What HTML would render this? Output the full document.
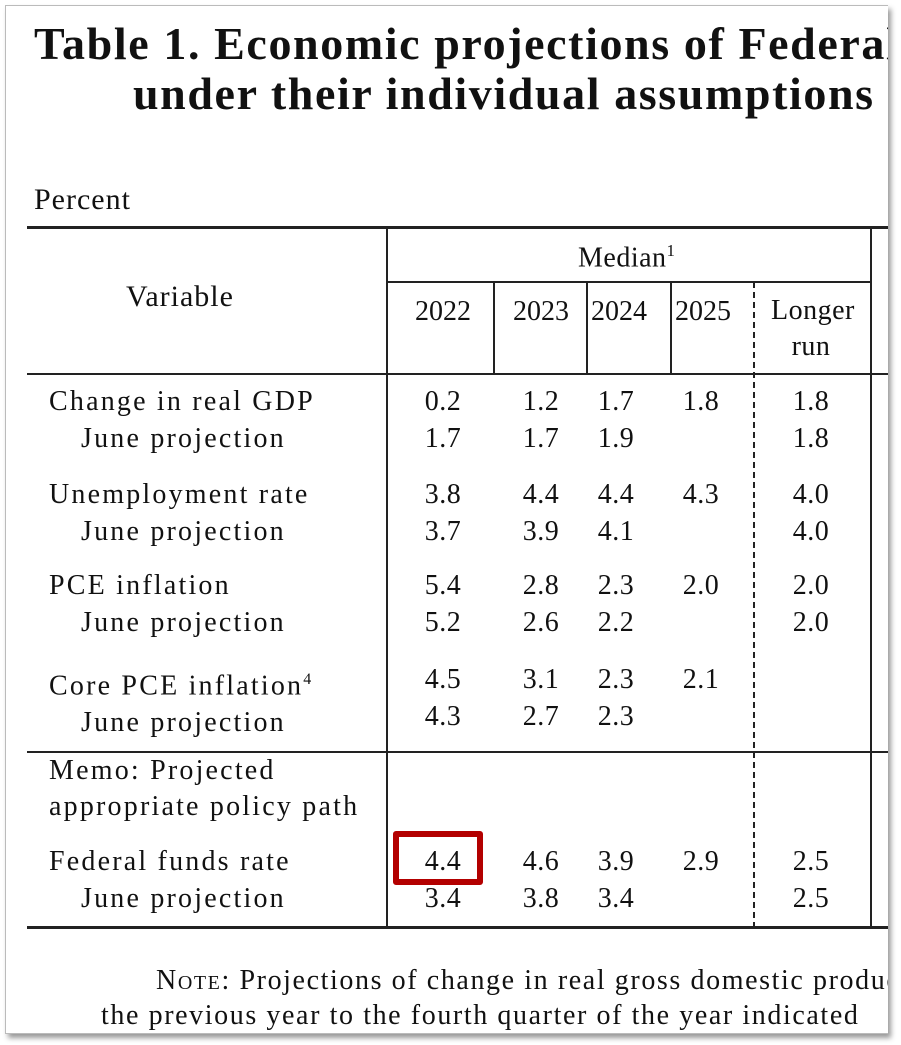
<!DOCTYPE html>
<html><head><style>
body{margin:0;width:901px;height:1045px;background:#fff;position:relative;overflow:hidden;font-family:"Liberation Serif",serif;color:#111}
#f{position:absolute;left:5px;top:5px;width:882px;height:1027px;border:1px solid #bbb;border-right:none;box-shadow:3px 4px 5px #999;background:#fff;overflow:hidden}
.t{position:absolute;white-space:nowrap;line-height:1;letter-spacing:1.4px}
.l{letter-spacing:2.2px}
.j{padding-left:32px}
.h{position:absolute;background:#222}
.c{position:absolute;width:80px;text-align:center;font-size:28px;line-height:1;letter-spacing:0.5px}
.y{letter-spacing:0}
</style></head><body>
<div id="f">
<div class="t" style="left:28px;top:15px;font-size:46px;font-weight:bold;letter-spacing:1.6px">Table 1. Economic projections of Federal Reserve</div>
<div class="t" style="left:127px;top:65px;font-size:46px;font-weight:bold;letter-spacing:1.6px">under their individual assumptions of projected</div>
<div class="t" style="left:28px;top:179px;font-size:30px;letter-spacing:1px">Percent</div>
<div class="h" style="left:21px;top:220px;width:870px;height:3px"></div>
<div class="h" style="left:380px;top:220px;width:2px;height:702px"></div>
<div class="h" style="left:864px;top:220px;width:2px;height:702px"></div>
<div class="h" style="left:380px;top:275px;width:486px;height:2px"></div>
<div class="h" style="left:487px;top:276px;width:2px;height:92px"></div>
<div class="h" style="left:580px;top:276px;width:2px;height:92px"></div>
<div class="h" style="left:664px;top:276px;width:2px;height:92px"></div>
<div style="position:absolute;left:747px;top:276px;width:0;height:646px;border-left:2px dashed #222"></div>
<div class="h" style="left:21px;top:367px;width:870px;height:2px"></div>
<div class="h" style="left:21px;top:745px;width:870px;height:2px"></div>
<div class="h" style="left:21px;top:920px;width:870px;height:3px"></div>
<div class="t" style="left:572px;top:236px;font-size:28px;letter-spacing:0.5px">Median<sup style="font-size:17px">1</sup></div>
<div class="t" style="left:120px;top:276px;font-size:30px;letter-spacing:1px">Variable</div>
<div class="c y" style="left:397px;top:292px">2022</div>
<div class="c y" style="left:495px;top:292px">2023</div>
<div class="c y" style="left:573px;top:292px">2024</div>
<div class="c y" style="left:657px;top:292px">2025</div>
<div class="c" style="left:765px;top:287px;line-height:36px">Longer<br>run</div>
<div class="t l" style="left:43px;top:377px;font-size:28px;line-height:37px">Change in real GDP<br><span class="j">June projection</span></div>
<div class="t l" style="left:43px;top:470px;font-size:28px;line-height:37px">Unemployment rate<br><span class="j">June projection</span></div>
<div class="t l" style="left:43px;top:561px;font-size:28px;line-height:37px">PCE inflation<br><span class="j">June projection</span></div>
<div class="t l" style="left:43px;top:655px;font-size:28px;line-height:37px">Core PCE inflation<sup style="font-size:16px">4</sup><br><span class="j">June projection</span></div>
<div class="t l" style="left:43px;top:747px;font-size:28px;line-height:36px">Memo: Projected<br>appropriate policy path</div>
<div class="t l" style="left:43px;top:837px;font-size:28px;line-height:37px">Federal funds rate<br><span class="j">June projection</span></div>
<div class="c" style="left:397px;top:377px;line-height:37px">0.2<br>1.7</div>
<div class="c" style="left:495px;top:377px;line-height:37px">1.2<br>1.7</div>
<div class="c" style="left:570px;top:377px;line-height:37px">1.7<br>1.9</div>
<div class="c" style="left:655px;top:377px;line-height:37px">1.8</div>
<div class="c" style="left:765px;top:377px;line-height:37px">1.8<br>1.8</div>
<div class="c" style="left:397px;top:470px;line-height:37px">3.8<br>3.7</div>
<div class="c" style="left:495px;top:470px;line-height:37px">4.4<br>3.9</div>
<div class="c" style="left:570px;top:470px;line-height:37px">4.4<br>4.1</div>
<div class="c" style="left:655px;top:470px;line-height:37px">4.3</div>
<div class="c" style="left:765px;top:470px;line-height:37px">4.0<br>4.0</div>
<div class="c" style="left:397px;top:561px;line-height:37px">5.4<br>5.2</div>
<div class="c" style="left:495px;top:561px;line-height:37px">2.8<br>2.6</div>
<div class="c" style="left:570px;top:561px;line-height:37px">2.3<br>2.2</div>
<div class="c" style="left:655px;top:561px;line-height:37px">2.0</div>
<div class="c" style="left:765px;top:561px;line-height:37px">2.0<br>2.0</div>
<div class="c" style="left:397px;top:655px;line-height:37px">4.5<br>4.3</div>
<div class="c" style="left:495px;top:655px;line-height:37px">3.1<br>2.7</div>
<div class="c" style="left:570px;top:655px;line-height:37px">2.3<br>2.3</div>
<div class="c" style="left:655px;top:655px;line-height:37px">2.1</div>
<div class="c" style="left:397px;top:837px;line-height:37px">4.4<br>3.4</div>
<div class="c" style="left:495px;top:837px;line-height:37px">4.6<br>3.8</div>
<div class="c" style="left:570px;top:837px;line-height:37px">3.9<br>3.4</div>
<div class="c" style="left:655px;top:837px;line-height:37px">2.9</div>
<div class="c" style="left:765px;top:837px;line-height:37px">2.5<br>2.5</div>
<div style="position:absolute;left:387px;top:825px;width:78px;height:42px;border:6px solid #b30000;border-radius:3px"></div>
<div class="t" style="left:150px;top:961px;font-size:28px;letter-spacing:1.6px"><span style="font-variant:small-caps">Note</span>: Projections of change in real gross domestic product</div>
<div class="t" style="left:95px;top:996px;font-size:28px;letter-spacing:1.6px">the previous year to the fourth quarter of the year indicated</div>
</div>
</body></html>
